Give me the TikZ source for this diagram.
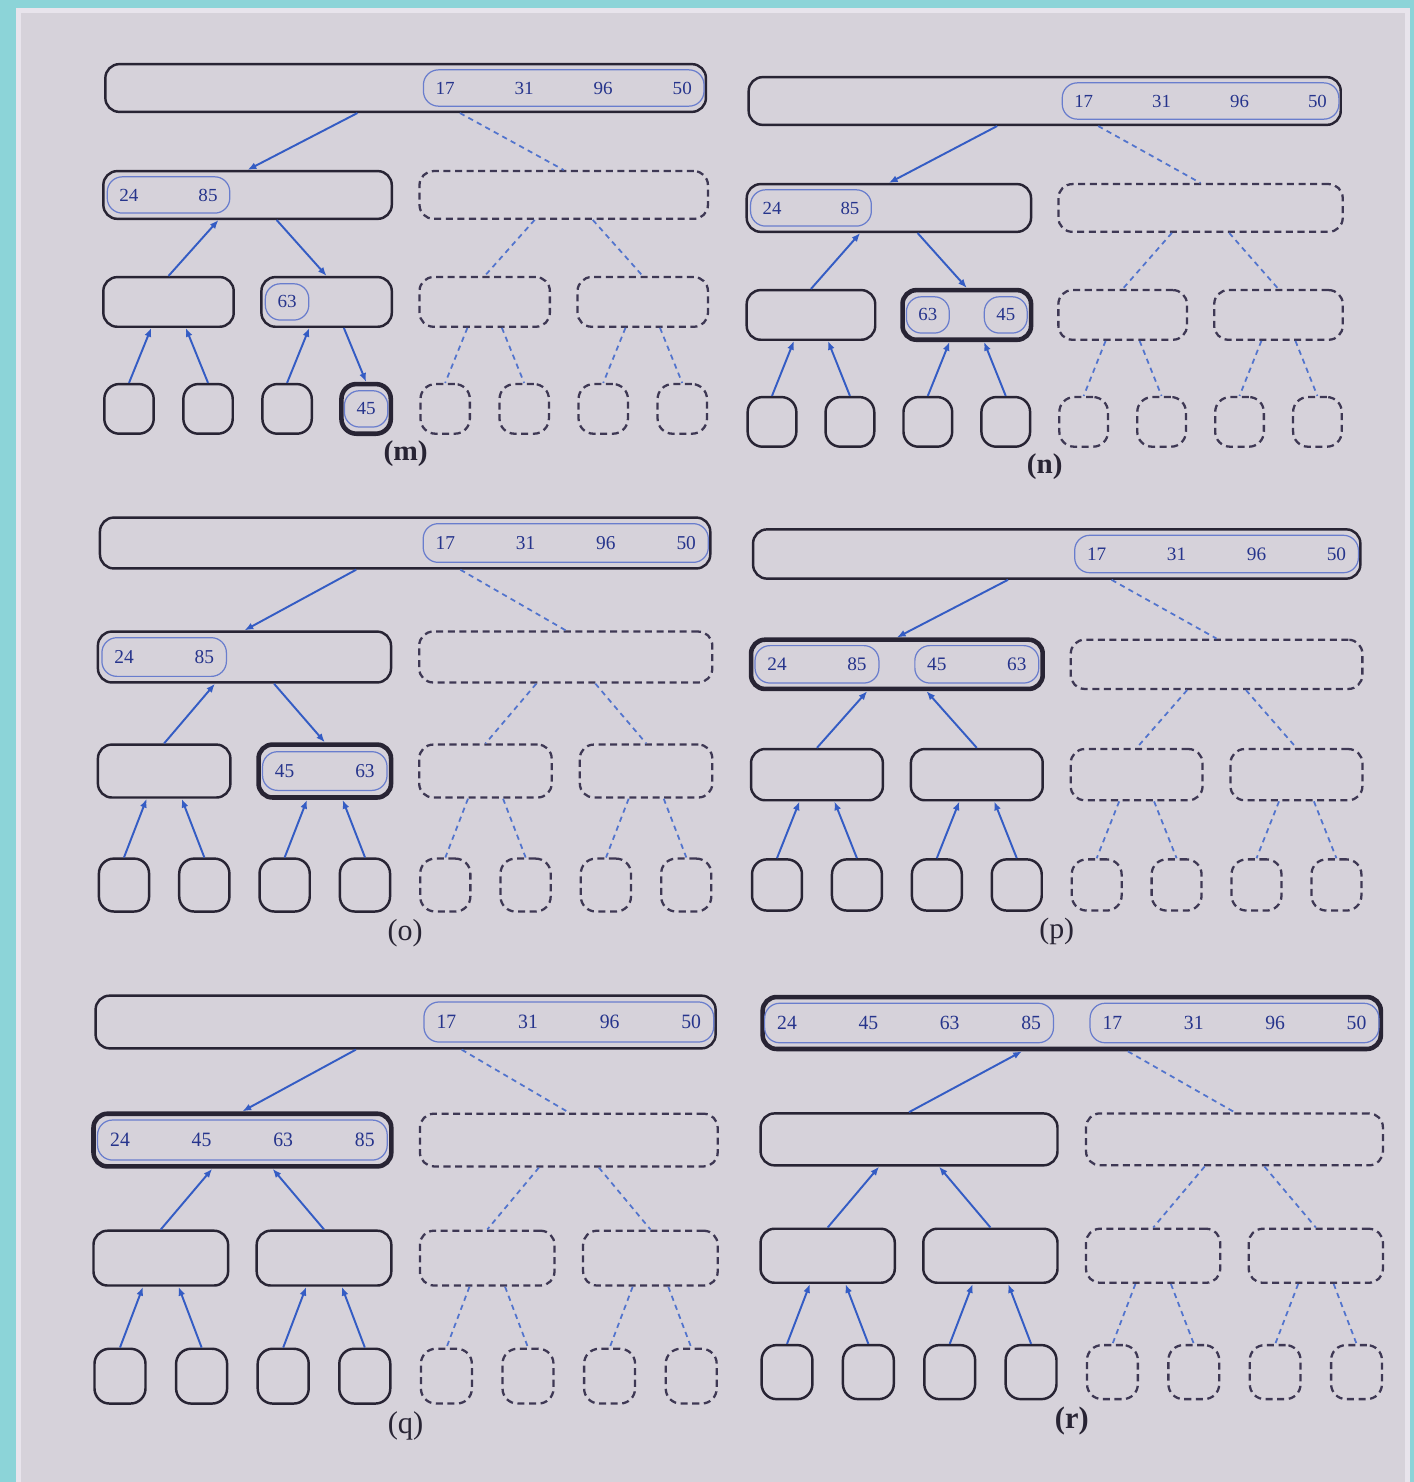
\documentclass[tikz,border=0pt]{standalone}
\usepackage{fontspec}
\setmainfont{Liberation Serif}
\usetikzlibrary{calc,arrows.meta}

\definecolor{page}{RGB}{214,210,218}
\definecolor{pageedge}{RGB}{232,228,236}
\definecolor{rim}{RGB}{140,212,216}
\definecolor{ink}{RGB}{40,36,52}
\definecolor{dashink}{RGB}{62,56,84}
\definecolor{linkblue}{RGB}{52,92,196}
\definecolor{seqblue}{RGB}{105,125,205}
\definecolor{numblue}{RGB}{38,52,140}

\tikzset{
  box/.style={draw=ink,line width=1.4pt,rounded corners=0.28cm,minimum height=1cm,inner sep=0pt},
  ghost/.style={box,draw=dashink,line width=1.3pt,dash pattern=on 4pt off 2.6pt},
  cur/.style={line width=2.6pt},
  whole/.style={minimum width=12.16cm},
  half/.style={minimum width=5.84cm},
  pair/.style={minimum width=2.64cm,minimum height=1.04cm},
  leaf/.style={minimum width=1cm,minimum height=1.04cm,rounded corners=0.3cm},
  link/.style={draw=linkblue,line width=1.1pt},
  fall/.style={-{Latex[length=5pt,width=4pt]}},
  rise/.style={{Latex[length=5pt,width=4pt]}-},
  dline/.style={draw=linkblue!85,line width=1pt,dash pattern=on 3pt off 2.5pt},
  seq/.style={draw=seqblue,line width=0.7pt,rounded corners=0.3cm},
  num/.style={text=numblue,font=\fontsize{11}{13}\selectfont},
  tag/.style={text=ink,font=\fontsize{17}{20}\selectfont},
  tagb/.style={text=ink,font=\fontsize{17}{20}\selectfont\bfseries},
}

% one merge-sort tree, columns 80 apart, rows 112 apart
\newcommand\mtree[1]{%
  \node[box,whole,hl-r/.try] (#1r) at (280,0) {};
  \node[box,half,hl-a1/.try] (#1a1) at (120,112) {};
  \node[ghost,half] (#1a2) at (440,112) {};
  \foreach \j in {1,2} \node[box,pair,hl-b\j/.try] (#1b\j) at ({160*\j-120},224) {};
  \foreach \j in {3,4} \node[ghost,pair] (#1b\j) at ({160*\j-120},224) {};
  \foreach \i in {1,...,4} \node[box,leaf,hl-c\i/.try] (#1c\i) at ({80*\i-80},336) {};
  \foreach \i in {5,...,8} \node[ghost,leaf] (#1c\i) at ({80*\i-80},336) {};
  \foreach \pa/\fr/\ch in {r/0.42/a1,a1/0.4/b1,a1/0.6/b2,b1/0.37/c1,b1/0.63/c2,b2/0.37/c3,b2/0.63/c4}
    \draw[link,rise,e-\ch/.try] ($(#1\pa.south west)!\fr!(#1\pa.south east)$) -- (#1\ch.north);
  \foreach \pa/\fr/\ch in {r/0.59/a2,a2/0.4/b3,a2/0.6/b4,b3/0.37/c5,b3/0.63/c6,b4/0.37/c7,b4/0.63/c8}
    \draw[dline] ($(#1\pa.south west)!\fr!(#1\pa.south east)$) -- (#1\ch.north);
}
% a run of values: row, first column, last column, values
\newcommand\vals[4]{%
  \draw[seq] ({80*(#2-1)-22},{#1-19}) rectangle ({80*(#3-1)+22},{#1+19});
  \foreach \v [count=\k from #2] in {#4} \node[num] (v\v) at ({80*(\k-1)},#1) {\v};
}

\begin{document}
\begin{tikzpicture}[x=0.02cm,y=-0.02cm]
  \useasboundingbox (0,0) rectangle (1414,1482);
  \fill[rim] (0,0) rectangle (1414,1482);
  \fill[pageedge] (16,8) rectangle (1410,1482);
  \fill[page] (21,13) rectangle (1405,1482);

  % (m)
  \begin{scope}[shift={(129,88)},xscale=0.988,yscale=0.955,transform shape,
      hl-c4/.style=cur,e-a1/.style=fall,e-b2/.style=fall,e-c4/.style=fall]
    \mtree{m}
    \vals{0}{5}{8}{17,31,96,50}
    \vals{112}{1}{2}{24,85}
    \vals{224}{3}{3}{63}
    \vals{336}{4}{4}{45}
    \node[tagb] (mt) at (280,383) {(m)};
  \end{scope}

  % (n)
  \begin{scope}[shift={(772,101)},xscale=0.974,yscale=0.955,transform shape,
      hl-b2/.style=cur,e-a1/.style=fall,e-b2/.style=fall]
    \mtree{n}
    \vals{0}{5}{8}{17,31,96,50}
    \vals{112}{1}{2}{24,85}
    \vals{224}{3}{3}{63}
    \vals{224}{4}{4}{45}
    \node[tagb] (nt) at (280,383) {(n)};
  \end{scope}

  % (o)
  \begin{scope}[shift={(124,543)},xscale=1.004,yscale=1.018,transform shape,
      hl-b2/.style=cur,e-a1/.style=fall,e-b2/.style=fall]
    \mtree{o}
    \vals{0}{5}{8}{17,31,96,50}
    \vals{112}{1}{2}{24,85}
    \vals{224}{3}{4}{45,63}
    \node[tag] (ot) at (280,383) {(o)};
  \end{scope}

  % (p)
  \begin{scope}[shift={(777,554)},xscale=0.999,yscale=0.985,transform shape,
      hl-a1/.style=cur,e-a1/.style=fall]
    \mtree{p}
    \vals{0}{5}{8}{17,31,96,50}
    \vals{112}{1}{2}{24,85}
    \vals{112}{3}{4}{45,63}
    \node[tag] (pt) at (280,383) {(p)};
  \end{scope}

  % (q)
  \begin{scope}[shift={(120,1022)},xscale=1.02,yscale=1.054,transform shape,
      hl-a1/.style=cur,e-a1/.style=fall]
    \mtree{q}
    \vals{0}{5}{8}{17,31,96,50}
    \vals{112}{1}{4}{24,45,63,85}
    \node[tag] (qt) at (280,383) {(q)};
  \end{scope}

  % (r)
  \begin{scope}[shift={(787,1023)},xscale=1.017,yscale=1.039,transform shape,
      hl-r/.style=cur]
    \mtree{r}
    \vals{0}{1}{4}{24,45,63,85}
    \vals{0}{5}{8}{17,31,96,50}
    \node[tagb] (rt) at (280,383) {(r)};
  \end{scope}
\end{tikzpicture}
\end{document}
